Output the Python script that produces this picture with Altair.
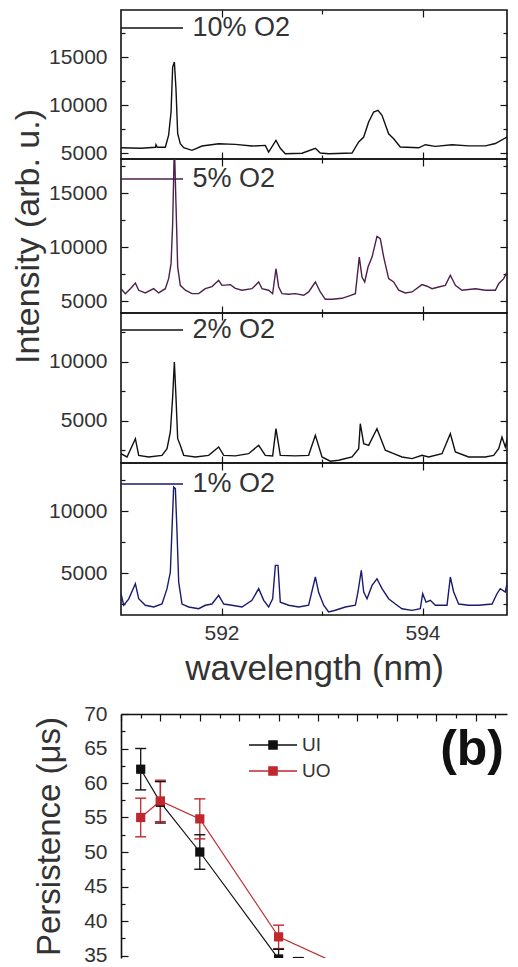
import altair as alt
import pandas as pd

FONT = "Liberation Sans"
TXT = "#333333"

# ---------------- spectra (wavelength nm, intensity arb. u.) ----------------
spec_10 = [(591.000, 5550), (591.200, 5500), (591.342, 5600), (591.348, 5870), (591.360, 5600),
           (591.441, 5600), (591.474, 6870), (591.498, 9270), (591.514, 13960), (591.531, 14480),
           (591.547, 11700), (591.564, 7010), (591.590, 5970), (591.624, 5550), (591.706, 5280),
           (591.806, 5730), (591.972, 5970), (592.138, 5900), (592.303, 5730), (592.436, 5800),
           (592.469, 5100), (592.542, 6320), (592.585, 5500), (592.635, 4930), (592.801, 4980),
           (592.934, 5500), (592.983, 5000), (593.066, 4930), (593.299, 5000), (593.365, 6150),
           (593.415, 6670), (593.464, 8230), (593.514, 9270), (593.557, 9450), (593.597, 8930),
           (593.663, 7010), (593.713, 6490), (593.779, 5630), (593.962, 5550), (594.028, 5870),
           (594.128, 5700), (594.294, 5870), (594.459, 5750), (594.625, 5750), (594.725, 5990),
           (594.841, 6670), (594.891, 5990), (594.950, 6150)]

spec_5 = [(591.000, 6140), (591.043, 5680), (591.093, 6140), (591.143, 6670), (591.176, 5990),
          (591.242, 5750), (591.325, 6140), (591.375, 5750), (591.441, 6140), (591.474, 7070),
          (591.498, 8460), (591.514, 12160), (591.531, 19500), (591.547, 14010), (591.564, 8150),
          (591.590, 6450), (591.640, 6000), (591.706, 5680), (591.773, 5680), (591.839, 6140),
          (591.905, 6340), (591.972, 6920), (592.005, 6450), (592.088, 6520), (592.138, 6170),
          (592.204, 6000), (592.303, 6140), (592.370, 6760), (592.403, 6140), (592.469, 6000),
          (592.509, 5680), (592.542, 7990), (592.569, 6300), (592.602, 5680), (592.668, 5620),
          (592.734, 5680), (592.818, 5530), (592.867, 5840), (592.934, 6760), (592.983, 5840),
          (593.033, 5160), (593.100, 5160), (593.199, 5250), (593.265, 5460), (593.332, 5680),
          (593.371, 9070), (593.398, 7220), (593.425, 6760), (593.458, 8150), (593.498, 9070),
          (593.547, 10990), (593.580, 10770), (593.614, 9070), (593.663, 7070), (593.713, 6760),
          (593.763, 6000), (593.829, 5750), (593.896, 5840), (593.995, 6520), (594.045, 6370),
          (594.095, 6140), (594.161, 6300), (594.227, 6450), (594.277, 7380), (594.327, 6450),
          (594.393, 6000), (594.526, 6140), (594.625, 6000), (594.725, 6000), (594.758, 6600),
          (594.808, 7070), (594.857, 7990), (594.891, 7220), (594.924, 6760), (594.950, 7380)]

spec_2 = [(591.000, 2230), (591.060, 1950), (591.143, 3500), (591.176, 2090), (591.275, 1950),
          (591.408, 2090), (591.458, 2650), (591.491, 4070), (591.514, 7030), (591.531, 10000),
          (591.547, 7030), (591.564, 3500), (591.590, 2940), (591.624, 2090), (591.740, 1950),
          (591.872, 2090), (591.972, 2800), (592.022, 2090), (592.138, 2040), (592.270, 2230),
          (592.370, 2940), (592.436, 2090), (592.509, 2040), (592.542, 4350), (592.585, 2090),
          (592.734, 2040), (592.867, 2090), (592.934, 3790), (593.000, 1950), (593.083, 1590),
          (593.166, 1670), (593.299, 1950), (593.365, 2650), (593.381, 4770), (593.415, 3080),
          (593.464, 2940), (593.547, 4350), (593.630, 2520), (593.713, 2230), (593.796, 1950),
          (593.896, 1810), (593.995, 2090), (594.061, 1950), (594.194, 2230), (594.277, 3920),
          (594.327, 2370), (594.459, 1950), (594.625, 1950), (594.708, 2090), (594.758, 2650),
          (594.791, 3640), (594.824, 2800), (594.857, 3920), (594.891, 3300), (594.950, 2940)]

spec_1 = [(591.000, 3330), (591.027, 2400), (591.076, 2900), (591.143, 4140), (591.176, 2930),
          (591.242, 2400), (591.325, 2260), (591.408, 2500), (591.458, 3740), (591.491, 5080),
          (591.507, 8440), (591.524, 11930), (591.541, 11800), (591.557, 8360), (591.574, 4270),
          (591.607, 2500), (591.673, 2260), (591.773, 2120), (591.839, 2400), (591.905, 2500),
          (591.972, 3200), (592.022, 2500), (592.104, 2400), (592.204, 2260), (592.303, 2800),
          (592.370, 3740), (592.420, 2800), (592.469, 2260), (592.509, 2930), (592.536, 5620),
          (592.562, 5620), (592.585, 2650), (592.668, 2400), (592.768, 2260), (592.867, 2400),
          (592.934, 4680), (592.967, 3420), (593.017, 2400), (593.066, 1860), (593.133, 2000),
          (593.232, 2260), (593.332, 2400), (593.358, 3470), (593.391, 5220), (593.415, 3470),
          (593.448, 2930), (593.498, 4000), (593.547, 4540), (593.597, 3740), (593.663, 2930),
          (593.730, 2500), (593.796, 2120), (593.896, 1990), (593.978, 2120), (594.002, 3330),
          (594.035, 2650), (594.078, 2800), (594.128, 2400), (594.244, 2400), (594.277, 4680),
          (594.310, 3470), (594.360, 2500), (594.459, 2400), (594.559, 2400), (594.692, 2500),
          (594.741, 3330), (594.774, 3740), (594.824, 3470), (594.857, 4810), (594.907, 4270),
          (594.940, 3470), (594.950, 3900)]

spectra = [spec_10, spec_5, spec_2, spec_1]
spec_labels = ["10% O2", "5% O2", "2% O2", "1% O2"]
spec_colors = ["#111111", "#4d1f4d", "#111111", "#1a1a70"]
spec_ydomain = [[4380, 19900], [3890, 18150], [1440, 14150], [1615, 13870]]
spec_heights = [149, 154, 150, 152]
spec_major = [[5000, 10000, 15000], [5000, 10000, 15000], [5000, 10000], [5000, 10000]]
spec_minor = [[7500, 12500, 17500], [7500, 12500, 17500], [2500, 7500, 12500], [2500, 7500, 12500]]
spec_leg_y = [4.5, 6.5, 3.5, 7.5]
wl_major = [592, 594]
wl_minor = [593]

# ---------------- panel (b) ----------------
b_series = ["UI", "UO"]
b_colors = ["#111111", "#c0282d"]
ui_x = [1, 2, 4, 8, 9]
ui_y = [62.0, 57.2, 50.0, 34.5, 33.2]
ui_err = [3.0, 3.0, 2.5, 1.4, 1.5]
uo_x = [1, 2, 4, 8, 12]
uo_y = [55.0, 57.4, 54.8, 37.7, 32.5]
uo_err = [2.8, 3.0, 2.9, 1.7, 1.5]
b_x_major = [0, 2, 4, 6, 8, 10, 12, 14, 16, 18, 20]
b_x_minor = [1, 3, 5, 7, 9, 11, 13, 15, 17, 19]
b_y_major = [35, 40, 45, 50, 55, 60, 65, 70]
b_y_minor = [37.5, 42.5, 47.5, 52.5, 57.5, 62.5, 67.5]

W = 386            # plot width (kept inside the 518 px window)
GAP = 99
B_HEIGHT = 244
wl_domain = [591, 591 + W / 100.5]
b_x_domain = [0, W / 19.7]


def inward(n):
    return {"expr": "-%s" % n}


def tick_axis(orient, values, length):
    return alt.Axis(orient=orient, values=values, tickSize=inward(length), labels=False,
                    domain=False, grid=False, title=None, tickColor="#111111", tickWidth=1.2)


def spectrum(i):
    df = pd.DataFrame(spectra[i], columns=["wl", "I"])
    df["s"] = spec_labels[i]
    xs = alt.Scale(domain=wl_domain, nice=False, zero=False)
    ys = alt.Scale(domain=spec_ydomain[i], nice=False, zero=False)
    if i == 3:
        xax = alt.Axis(orient="bottom", values=wl_major, tickSize=inward(7), domain=False, grid=False,
                       tickColor="#111111", tickWidth=1.2,
                       labelFontSize=21, labelPadding=14, labelColor=TXT, labelFont=FONT, labelFlush=False,
                       title="wavelength (nm)", titleFontSize=35, titlePadding=8, titleColor=TXT,
                       titleFont=FONT, titleFontWeight="normal")
    else:
        xax = tick_axis("bottom", wl_major, 7)
    yargs = dict(orient="left", values=spec_major[i], tickSize=inward(7), domain=False, grid=False,
                 format="d", tickColor="#111111", tickWidth=1.2,
                 labelFontSize=21, labelPadding=21, labelColor=TXT, labelFont=FONT)
    if i == 1:
        yargs.update(title="Intensity (arb. u.)", titleFontSize=34, titlePadding=3, titleColor=TXT,
                     titleFont=FONT, titleFontWeight="normal", titleLimit=600)
    else:
        yargs.update(title=None)
    legend = alt.Legend(orient="none", legendX=17.5, legendY=spec_leg_y[i], title=None,
                        symbolType="M-6,0H6", symbolSize=106.8, symbolStrokeWidth=1.5,
                        labelFontSize=27, labelOffset=27, labelColor=TXT,
                        labelFont=FONT, padding=0)
    main = alt.Chart(df).mark_line(strokeWidth=1.4, clip=True).encode(
        x=alt.X("wl:Q", scale=xs, axis=xax),
        y=alt.Y("I:Q", scale=ys, axis=alt.Axis(**yargs)),
        color=alt.Color("s:N", scale=alt.Scale(domain=[spec_labels[i]], range=[spec_colors[i]]),
                        legend=legend),
    )
    ghost = alt.Chart(df).mark_line(opacity=0, clip=True)
    g1 = ghost.encode(x=alt.X("wl:Q", scale=xs, axis=tick_axis("top", wl_major, 7)),
                      y=alt.Y("I:Q", scale=ys, axis=tick_axis("right", spec_major[i], 7)))
    g2 = ghost.encode(x=alt.X("wl:Q", scale=xs, axis=tick_axis("bottom", wl_minor, 4)),
                      y=alt.Y("I:Q", scale=ys, axis=tick_axis("left", spec_minor[i], 4)))
    g3 = ghost.encode(x=alt.X("wl:Q", scale=xs, axis=tick_axis("top", wl_minor, 4)),
                      y=alt.Y("I:Q", scale=ys, axis=tick_axis("right", spec_minor[i], 4)))
    return alt.layer(main, g1, g2, g3).resolve_axis(x="independent", y="independent").properties(
        width=W, height=spec_heights[i])


# empty band between the two figures
spacer = alt.Chart(pd.DataFrame({"v": [0]})).mark_point(opacity=0).encode(
    x=alt.X("v:Q", axis=None), y=alt.Y("v:Q", axis=None)
).properties(width=W, height=GAP, view=alt.ViewBackground(strokeWidth=0))

# panel (b)
b_rows = []
for s, xv_, yv_, ev_ in (("UI", ui_x, ui_y, ui_err), ("UO", uo_x, uo_y, uo_err)):
    for xv, yv, ev in zip(xv_, yv_, ev_):
        b_rows.append({"s": s, "x": xv, "y": yv, "lo": yv - ev, "hi": yv + ev})
dfb = pd.DataFrame(b_rows)

xsb = alt.Scale(domain=b_x_domain, nice=False, zero=False)
ysb = alt.Scale(domain=[70 - B_HEIGHT / 6.9, 70], nice=False, zero=False)
colb = alt.Scale(domain=b_series, range=b_colors)
baseb = alt.Chart(dfb)

line_b = baseb.mark_line(strokeWidth=1.2, clip=True).encode(
    x=alt.X("x:Q", scale=xsb, axis=alt.Axis(orient="top", values=b_x_major, tickSize=inward(7),
                                            labels=False, domain=True, domainColor="#111111",
                                            domainWidth=1.6, grid=False, title=None,
                                            tickColor="#111111", tickWidth=1.2)),
    y=alt.Y("y:Q", scale=ysb, axis=alt.Axis(orient="left", values=b_y_major, tickSize=inward(7),
                                            domain=True, domainColor="#111111", domainWidth=1.6,
                                            grid=False, tickColor="#111111", tickWidth=1.2,
                                            labelFontSize=21, labelPadding=21, labelColor=TXT,
                                            labelFont=FONT, title="Persistence (\u03bcs)",
                                            titleFontSize=33, titlePadding=17, titleColor=TXT,
                                            titleFont=FONT, titleFontWeight="normal", titleLimit=600)),
    stroke=alt.Stroke("s:N", scale=colb, legend=None),
)
minor_b = baseb.mark_line(opacity=0, clip=True).encode(
    x=alt.X("x:Q", scale=xsb, axis=tick_axis("top", b_x_minor, 4)),
    y=alt.Y("y:Q", scale=ysb, axis=tick_axis("left", b_y_minor, 4)),
)
rule_b = baseb.mark_rule(strokeWidth=1.3, clip=True).encode(
    x=alt.X("x:Q", scale=xsb, axis=None),
    y=alt.Y("lo:Q", scale=ysb, axis=None), y2="hi:Q",
    stroke=alt.Stroke("s:N", scale=colb, legend=None),
)
cap_lo = baseb.mark_tick(orient="horizontal", size=11, thickness=1.4, opacity=1, clip=True).encode(
    x=alt.X("x:Q", scale=xsb, axis=None),
    y=alt.Y("lo:Q", scale=ysb, axis=None),
    fill=alt.Fill("s:N", scale=colb, legend=None),
)
cap_hi = baseb.mark_tick(orient="horizontal", size=11, thickness=1.4, opacity=1, clip=True).encode(
    x=alt.X("x:Q", scale=xsb, axis=None),
    y=alt.Y("hi:Q", scale=ysb, axis=None),
    fill=alt.Fill("s:N", scale=colb, legend=None),
)
leg_b = alt.Legend(orient="none", legendX=142.5, legendY=21.5, title=None,
                   symbolType="M-4,-0.12H4V0.12H-4Z M-0.8,-0.8H0.8V0.8H-0.8Z",
                   symbolSize=144, rowPadding=6, labelFontSize=19,
                   labelOffset=19.5, labelColor=TXT, labelFont=FONT, padding=0)
pts_b = baseb.mark_square(size=85, filled=True, opacity=1, clip=True).encode(
    x=alt.X("x:Q", scale=xsb, axis=None),
    y=alt.Y("y:Q", scale=ysb, axis=None),
    color=alt.Color("s:N", scale=colb, legend=leg_b),
)
panel_b = alt.layer(line_b, minor_b, rule_b, cap_lo, cap_hi, pts_b).resolve_axis(
    x="independent", y="independent").properties(
    width=W, height=B_HEIGHT, view=alt.ViewBackground(strokeWidth=0),
    title=alt.TitleParams(text="(b)", anchor="end", frame="group", fontSize=50, fontWeight="bold",
                          font=FONT, color="#111111", dx=-3, dy=72, offset=0))

chart = alt.vconcat(*[spectrum(i) for i in range(4)], spacer, panel_b,
                    spacing=0, bounds="flush").resolve_scale(
    color="independent").properties(
    padding={"left": 2, "top": 0, "right": 0, "bottom": 0}).configure_view(
    stroke="#111111", strokeWidth=1.6)

chart.save("out.html", embed_options={"renderer": "svg", "actions": False})
